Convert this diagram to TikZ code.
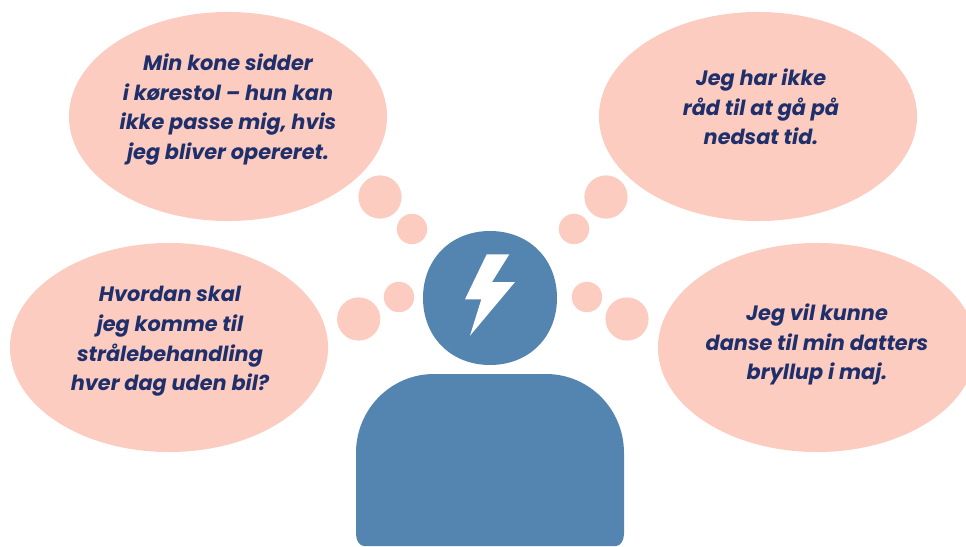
\documentclass[tikz,border=0pt]{standalone}
\usepackage{fontspec}
\setmainfont{Poppins}
\usepackage{xcolor}
\definecolor{bubble}{HTML}{FBCCBF}
\definecolor{person}{HTML}{5385B0}
\definecolor{navy}{HTML}{1F2F6B}
\usetikzlibrary{shapes}
\tikzset{
thought/.style={shape=ellipse,fill=bubble,inner sep=0pt,minimum width=7.95cm,minimum height=5.225cm},
bigdot/.style={shape=circle,fill=bubble,inner sep=0pt,minimum size=1.08cm},
smalldot/.style={shape=circle,fill=bubble,inner sep=0pt,minimum size=0.76cm},
saying/.style={align=center,text=navy,font=\fontsize{14.8}{21.1}\selectfont\bfseries\itshape,inner sep=0pt},
}
\begin{document}
\begin{tikzpicture}[x=0.025cm,y=-0.025cm]
\useasboundingbox (0,0) rectangle (966,546);
% bubbles
\node[thought](kone)at(228,116.5){};
\node[thought](raad)at(758,116.5){};
\node[thought](bil)at(169,347.5){};
\node[thought](dans)at(817,347.5){};
\node[bigdot](koneA)at(380,197){};
\node[smalldot](koneB)at(412,229){};
\node[bigdot](raadA)at(606,197){};
\node[smalldot](raadB)at(574,229){};
\node[bigdot](bilA)at(358.7,319){};
\node[smalldot](bilB)at(399,297){};
\node[bigdot](dansA)at(627,319){};
\node[smalldot](dansB)at(587,297){};
% texts
\node[saying](konetext)at(228,109.5){Min kone sidder\\i kørestol – hun kan\\ikke passe mig, hvis\\jeg bliver opereret.};
\node[saying](raadtext)at(761,107){Jeg har ikke\\råd til at gå på\\nedsat tid.};
\node[saying](biltext)at(170,341.5){Hvordan skal\\jeg komme til\\strålebehandling\\hver dag uden bil?};
\node[saying](danstext)at(817,344.5){Jeg vil kunne\\danse til min datters\\bryllup i maj.};
% person
\fill[person](423,298)..controls(423,259)and(451,231)..(490,231)
..controls(529,231)and(557,259)..(557,298)
..controls(557,337)and(529,365)..(490,365)
..controls(451,365)and(423,337)..(423,298)--cycle;
\fill[person](356,453)..controls(356,409)and(391,374)..(434,374)
--(546,374)..controls(589,374)and(624,409)..(624,453)
--(624,534)..controls(624,541)and(620,546)..(616,546)
--(364,546)..controls(360,546)and(356,541)..(356,534)--cycle;
\fill[white](486.7,254.3)--(509.3,254.3)--(492,282)--(515,282)--(470,335.7)--(481.3,299.3)--(465,299.3)--cycle;
\end{tikzpicture}
\end{document}
